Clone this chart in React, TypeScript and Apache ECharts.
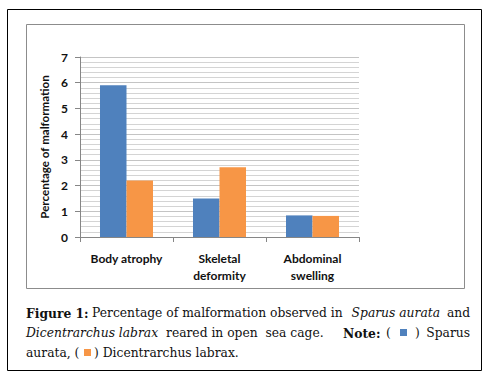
import React, { useEffect, useRef } from "react";
import * as echarts from "echarts";

const categories = ["Body atrophy", "Skeletal\ndeformity", "Abdominal\nswelling"];
const sparusAurata = [5.9, 1.5, 0.84];
const dicentrarchusLabrax = [2.2, 2.71, 0.82];
const yTicks = [0, 1, 2, 3, 4, 5, 6, 7];
const yAxisTitle = "Percentage of malformation";

const BLUE = "#4F81BD";
const ORANGE = "#F79646";
const SERIF = "'DejaVu Serif', 'Liberation Serif', serif";
const CAP_SIZE = 12.3;

export default function App() {
  const ref = useRef<HTMLDivElement>(null);
  useEffect(() => {
    if (!ref.current) return;
    const chart = echarts.init(ref.current, null, { renderer: "svg" });
    const capFont = (w: string, s: string, size: number) =>
      `${s} ${w} ${size}px ${SERIF}`;
    const t = (text: string, x: number, y: number, opts: any = {}) => ({
      type: "text",
      x,
      y,
      z: 10,
      style: {
        text,
        font: capFont(
          opts.bold ? "bold" : "normal",
          opts.italic ? "italic" : "normal",
          opts.size || CAP_SIZE
        ),
        fill: "#111",
        align: opts.align || "left",
        verticalAlign: "middle",
      },
    });
    chart.setOption({
      animation: false,
      backgroundColor: "#fff",
      grid: { left: 80, top: 57, width: 279, height: 180, containLabel: false },
      xAxis: {
        type: "category",
        data: categories,
        axisLine: { show: true, lineStyle: { color: "#868686", width: 1 } },
        axisTick: { show: true, length: 5, lineStyle: { color: "#868686" } },
        axisLabel: {
          interval: 0,
          margin: 13,
          color: "#111",
          fontFamily: "Lato, 'Open Sans', sans-serif",
          fontWeight: "bold",
          fontSize: 12,
          lineHeight: 17,
        },
      },
      yAxis: {
        type: "value",
        min: 0,
        max: 7,
        interval: 1,
        name: yAxisTitle,
        nameLocation: "middle",
        nameGap: 28,
        nameTextStyle: {
          color: "#111",
          fontFamily: "Lato, 'Open Sans', sans-serif",
          fontWeight: "bold",
          fontSize: 11.6,
        },
        axisLine: { show: true, lineStyle: { color: "#868686", width: 1 } },
        axisTick: { show: true, length: 5, lineStyle: { color: "#868686" } },
        axisLabel: {
          margin: 12,
          color: "#111",
          fontFamily: "Lato, 'Open Sans', sans-serif",
          fontWeight: "bold",
          fontSize: 12,
          formatter: (v: number) => (yTicks.includes(v) ? String(v) : ""),
        },
        splitLine: { show: true, lineStyle: { color: "#c4c4c4", width: 1 } },
        minorTick: { show: false, splitNumber: 5 },
        minorSplitLine: { show: true, lineStyle: { color: "#d4d4d4", width: 1 } },
      },
      series: [
        {
          name: "Sparus aurata",
          type: "bar",
          data: sparusAurata,
          itemStyle: { color: BLUE },
          barGap: "0%",
          barCategoryGap: "43%",
        },
        {
          name: "Dicentrarchus labrax",
          type: "bar",
          data: dicentrarchusLabrax,
          itemStyle: { color: ORANGE },
          barGap: "0%",
          barCategoryGap: "43%",
        },
      ],
      graphic: [
        {
          type: "rect",
          z: -10,
          shape: { x: 7.5, y: 9.5, width: 474, height: 361 },
          style: { fill: "none", stroke: "#000", lineWidth: 1 },
          silent: true,
        },
        {
          type: "rect",
          z: -10,
          shape: { x: 26.5, y: 24.5, width: 438, height: 264 },
          style: { fill: "none", stroke: "#8c8c8c", lineWidth: 1 },
          silent: true,
        },
        t("Figure 1:", 26, 313, { bold: true }),
        t("Percentage of malformation observed in", 92, 313),
        t("Sparus aurata", 440, 313, { italic: true, align: "right" }),
        t("and", 470, 313, { align: "right" }),
        t("Dicentrarchus labrax", 26, 333, { italic: true }),
        t("reared in open  sea cage.", 166, 333),
        t("Note:", 343, 333, { bold: true }),
        t("(", 386, 333),
        {
          type: "rect",
          z: 10,
          shape: { x: 400, y: 329, width: 7, height: 7 },
          style: { fill: BLUE },
        },
        t(")", 415, 333),
        t("Sparus", 470, 333, { align: "right" }),
        t("aurata, (", 26, 353),
        {
          type: "rect",
          z: 10,
          shape: { x: 84, y: 349, width: 7, height: 7 },
          style: { fill: ORANGE },
        },
        t(") Dicentrarchus labrax.", 94, 353),
      ],
    });
    return () => chart.dispose();
  }, []);
  return (
    <div
      ref={ref}
      style={{ position: "absolute", left: 0, top: 0, width: 490, height: 379 }}
    />
  );
}
